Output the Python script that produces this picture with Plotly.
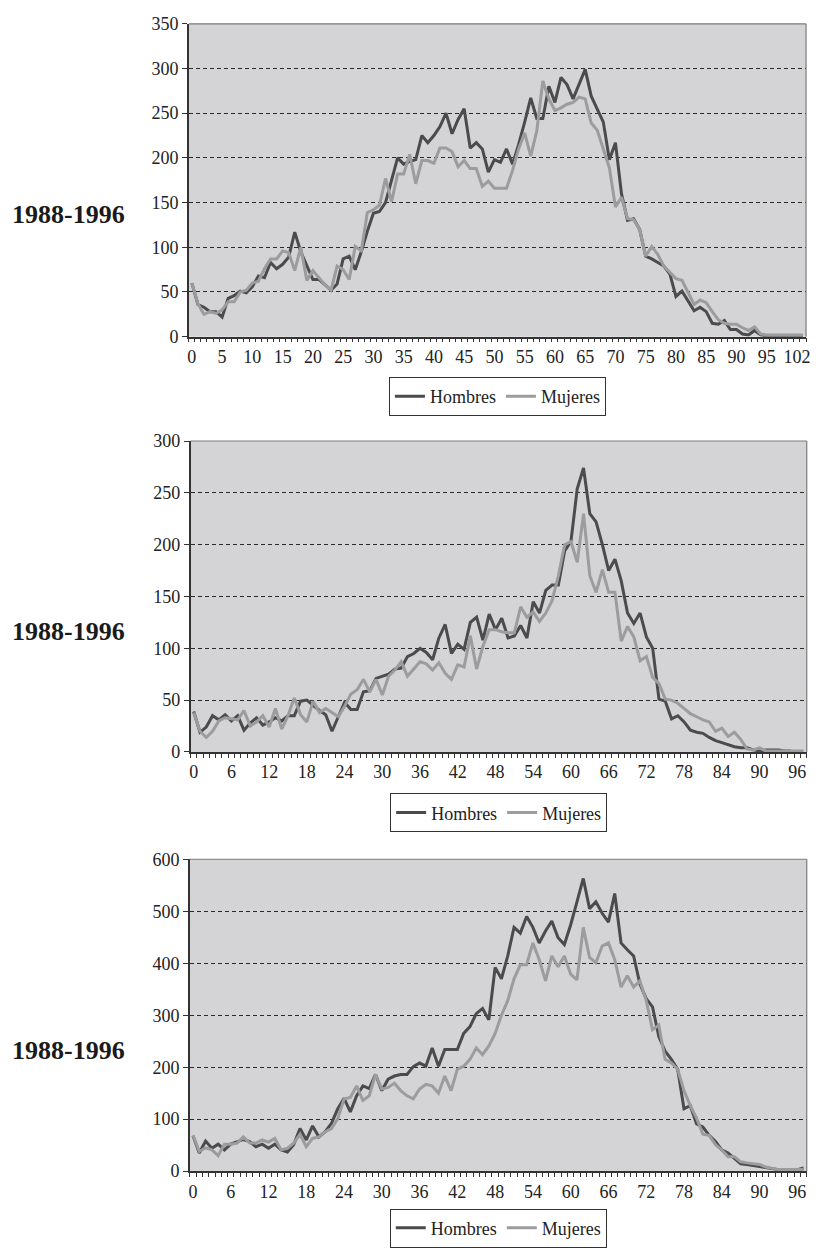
import plotly.graph_objects as go

# ---------------- data ----------------
x_tick_labels_1 = ["0", "5", "10", "15", "20", "25", "30", "35", "40", "45", "50",
                   "55", "60", "65", "70", "75", "80", "85", "90", "95", "102"]
x_tick_labels_2 = ["0", "6", "12", "18", "24", "30", "36", "42", "48", "54", "60",
                   "66", "72", "78", "84", "90", "96"]
x_tick_labels_3 = ["0", "6", "12", "18", "24", "30", "36", "42", "48", "54", "60",
                   "66", "72", "78", "84", "90", "96"]

series_names = ["Hombres", "Mujeres"]
row_labels = ["1988-1996", "1988-1996", "1988-1996"]

hombres_1 = [60, 36, 33, 28, 28, 22, 43, 46, 51, 49,
             56, 68, 66, 83, 76, 81, 89, 117, 95, 80,
             64, 64, 58, 52, 59, 87, 90, 75, 95, 118,
             138, 140, 150, 176, 200, 193, 196, 198, 225, 217,
             225, 235, 250, 227, 243, 255, 211, 217, 210, 184,
             198, 195, 210, 193, 215, 240, 267, 244, 244, 280,
             262, 290, 282, 266, 283, 299, 269, 255, 240, 198,
             217, 160, 130, 132, 120, 90, 87, 83, 79, 70,
             45, 51, 40, 29, 33, 28, 15, 14, 18, 8,
             8, 3, 2, 7, 2, 1, 1, 1, 1, 1,
             1, 1]
mujeres_1 = [60, 37, 25, 28, 26, 30, 39, 39, 50, 52,
             60, 62, 76, 87, 87, 96, 94, 74, 100, 63,
             74, 66, 58, 52, 79, 75, 64, 101, 96, 139,
             142, 147, 177, 151, 182, 182, 204, 171, 197, 197,
             194, 211, 211, 207, 190, 197, 188, 188, 168, 174,
             166, 166, 166, 186, 210, 228, 202, 230, 286, 266,
             253, 256, 260, 262, 268, 266, 239, 231, 211, 189,
             145, 156, 132, 131, 120, 90, 101, 92, 79, 72,
             65, 63, 50, 36, 41, 38, 28, 19, 15, 14,
             14, 10, 7, 11, 3, 2, 2, 2, 2, 2,
             2, 2]

hombres_2 = [39, 19, 24, 35, 31, 36, 30, 35, 21, 28,
             33, 26, 29, 33, 30, 35, 35, 49, 50, 45,
             40, 36, 20, 34, 48, 41, 41, 58, 59, 71,
             73, 75, 80, 81, 92, 95, 100, 96, 89, 110,
             123, 95, 104, 99, 125, 130, 108, 133, 118, 129,
             110, 112, 122, 110, 145, 134, 156, 161, 161, 194,
             203, 254, 274, 230, 222, 200, 175, 186, 165, 134,
             124, 134, 111, 100, 51, 49, 32, 35, 29, 21,
             19, 18, 14, 11, 9, 7, 5, 4, 4, 2,
             1, 2, 2, 2, 1, 1, None, None]
mujeres_2 = [38, 20, 14, 20, 30, 33, 32, 31, 40, 25,
             29, 35, 24, 42, 22, 35, 52, 36, 29, 49,
             38, 42, 38, 34, 44, 56, 60, 70, 58, 70,
             55, 73, 79, 87, 73, 80, 87, 85, 79, 86,
             76, 70, 84, 82, 112, 80, 102, 118, 118, 116,
             115, 115, 140, 130, 135, 126, 134, 146, 170, 200,
             203, 183, 230, 170, 154, 176, 154, 154, 107, 121,
             111, 88, 92, 72, 66, 51, 50, 47, 42, 37,
             34, 31, 29, 20, 23, 15, 19, 12, 3, 2,
             4, 1, 1, 1, 1, 1, 1, 1]

hombres_3 = [68, 35, 58, 44, 52, 41, 52, 57, 61, 57,
             47, 52, 44, 52, 41, 37, 51, 82, 60, 87,
             66, 76, 92, 120, 140, 114, 145, 164, 159, 186,
             155, 177, 183, 186, 186, 201, 208, 202, 237, 202,
             234, 234, 234, 265, 278, 303, 313, 291, 392, 370,
             414, 469, 458, 490, 469, 439, 462, 481, 449, 436,
             474, 518, 563, 505, 518, 496, 479, 534, 439, 426,
             414, 360, 332, 316, 259, 231, 215, 196, 120, 126,
             91, 85, 69, 57, 41, 35, 24, 14, 13, 11,
             9, 8, 6, 3, 3, 3, 3, 6]
mujeres_3 = [69, 38, 45, 41, 30, 52, 52, 54, 66, 54,
             54, 60, 56, 63, 41, 44, 54, 71, 47, 63,
             66, 76, 82, 101, 139, 142, 164, 136, 145, 186,
             158, 161, 169, 155, 145, 139, 158, 167, 164, 150,
             183, 155, 196, 202, 215, 237, 224, 241, 265, 300,
             328, 370, 397, 397, 439, 407, 366, 414, 393, 414,
             379, 368, 469, 411, 401, 433, 439, 407, 354, 376,
             354, 366, 328, 272, 281, 215, 208, 196, 155, 126,
             102, 71, 69, 51, 41, 28, 28, 18, 16, 14,
             13, 8, 6, 3, 3, 3, 3, 3]

# ---------------- layout helpers ----------------
W, H = 816, 1254


def fx(p):
    return p / W


def fy(p):
    return 1 - p / H


panels = [
    dict(h=hombres_1, m=mujeres_1, labels=x_tick_labels_1, step=5, ymax=350, ydt=50,
         left=189, right=810, top=14, bottom=332, legend_top=373),
    dict(h=hombres_2, m=mujeres_2, labels=x_tick_labels_2, step=6, ymax=300, ydt=50,
         left=190.7, right=810.7, top=438, bottom=754, legend_top=796),
    dict(h=hombres_3, m=mujeres_3, labels=x_tick_labels_3, step=6, ymax=600, ydt=100,
         left=190, right=810.7, top=863, bottom=1180, legend_top=1218),
]

DARK = "#4b4b4d"
LIGHT = "#9c9c9e"
FONT = "Liberation Serif"

fig = go.Figure()
layout = dict(
    width=W, height=H,
    margin=dict(l=0, r=0, t=0, b=0),
    paper_bgcolor="white",
    plot_bgcolor="#d4d4d6",
    shapes=[], annotations=[],
)

for k, p in enumerate(panels):
    n = len(p["h"])
    idx = list(range(n))
    sfx = "" if k == 0 else str(k + 1)
    xa, ya = "x" + sfx, "y" + sfx
    lg = "legend" + sfx
    fig.add_trace(go.Scatter(x=idx, y=p["h"], mode="lines", name=series_names[0],
                             line=dict(color=DARK, width=3), xaxis=xa, yaxis=ya,
                             legend=lg, connectgaps=False))
    fig.add_trace(go.Scatter(x=idx, y=p["m"], mode="lines", name=series_names[1],
                             line=dict(color=LIGHT, width=3), xaxis=xa, yaxis=ya,
                             legend=lg, connectgaps=False))
    tickvals = [i * p["step"] for i in range(len(p["labels"]))]
    layout["xaxis" + sfx] = dict(
        domain=[fx(p["left"]), fx(p["right"])], anchor=ya,
        range=[-0.5, n - 0.5], tickmode="array", tickvals=tickvals, ticktext=p["labels"],
        ticks="outside", ticklen=3, tickcolor="rgba(0,0,0,0)",
        minor=dict(tickmode="array", tickvals=[j - 0.5 for j in range(n + 1)],
                   ticks="outside", ticklen=4, tickcolor="#333", tickwidth=1, showgrid=False),
        showline=True, linecolor="#333", linewidth=1.5,
        showgrid=False, zeroline=False,
        tickfont=dict(family=FONT, size=18, color="#222"),
    )
    layout["yaxis" + sfx] = dict(
        domain=[fy(p["bottom"]), fy(p["top"])], anchor=xa,
        range=[0, p["ymax"]], tick0=0, dtick=p["ydt"],
        ticks="outside", ticklen=5, tickcolor="#333",
        showline=True, linecolor="#333", linewidth=1.5,
        showgrid=True, gridcolor="#2a2a2a", gridwidth=1, griddash="4px,3px",
        zeroline=False,
        tickfont=dict(family=FONT, size=18, color="#222"),
    )
    layout[lg] = dict(
        orientation="h", x=fx((p["left"] + p["right"]) / 2), xanchor="center",
        y=fy(p["legend_top"]), yanchor="top",
        bordercolor="#333", borderwidth=1, bgcolor="white",
        font=dict(family=FONT, size=18, color="#222"),
        traceorder="normal",
    )
    # top and right borders of plot area
    layout["shapes"].append(dict(type="line", xref="paper", yref="paper",
                                 x0=fx(p["left"]), x1=fx(p["right"]),
                                 y0=fy(p["top"]), y1=fy(p["top"]),
                                 line=dict(color="#7a7a7a", width=1.2)))
    layout["shapes"].append(dict(type="line", xref="paper", yref="paper",
                                 x0=fx(p["right"]), x1=fx(p["right"]),
                                 y0=fy(p["bottom"]), y1=fy(p["top"]),
                                 line=dict(color="#7a7a7a", width=1.2)))
    layout["annotations"].append(dict(
        text="<b>" + row_labels[k] + "</b>", xref="paper", yref="paper",
        x=fx(68), y=fy(p["top"] + 194), xanchor="center", yanchor="middle",
        showarrow=False, font=dict(family=FONT, size=26, color="#1a1a1a")))

fig.update_layout(**layout)
fig.write_html(
    "out.html",
    config={"displayModeBar": False},
    post_script="document.body.style.margin='0';document.body.style.overflow='hidden';",
)
